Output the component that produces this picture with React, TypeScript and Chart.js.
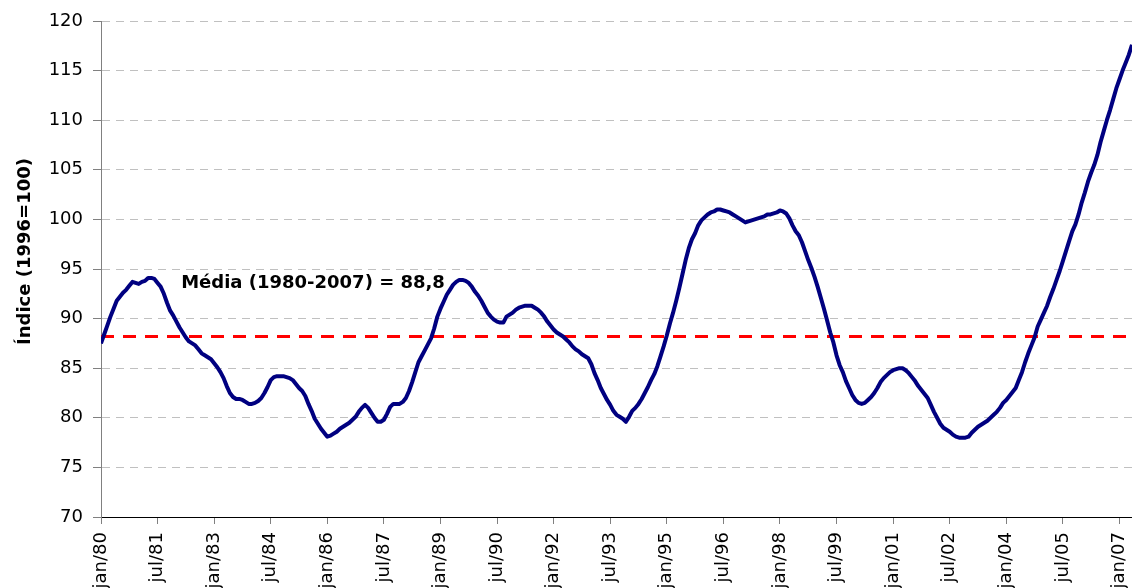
import React, { useEffect, useRef } from 'react';
import { Chart, registerables } from 'chart.js';

Chart.register(...registerables);

// Monthly index values (1996=100), jan/80 .. may/07
const values1980s = [
  87.5, 88.4, 89.3, 90.2, 91.0, 91.8, 92.2, 92.6, 92.9, 93.3, 93.7, 93.6, // 1980
  93.5, 93.7, 93.8, 94.1, 94.1, 94.0, 93.6, 93.2, 92.5, 91.6, 90.8, 90.3, // 1981
  89.7, 89.1, 88.6, 88.1, 87.7, 87.5, 87.3, 86.9, 86.5, 86.3, 86.1, 85.9, // 1982
  85.5, 85.1, 84.6, 84.0, 83.2, 82.5, 82.1, 81.9, 81.9, 81.8, 81.6, 81.4, // 1983
  81.4, 81.5, 81.7, 82.0, 82.5, 83.1, 83.8, 84.1, 84.2, 84.2, 84.2, 84.1, // 1984
  84.0, 83.8, 83.4, 83.0, 82.7, 82.2, 81.4, 80.7, 79.9, 79.4, 78.9, 78.5, // 1985
  78.1, 78.2, 78.4, 78.6, 78.9, 79.1, 79.3, 79.5, 79.8, 80.1, 80.6, 81.0, // 1986
  81.3, 81.0, 80.5, 80.0, 79.6, 79.6, 79.8, 80.4, 81.1, 81.4, 81.4, 81.4, // 1987
  81.6, 82.0, 82.7, 83.6, 84.6, 85.6, 86.2, 86.8, 87.4, 88.0, 89.0, 90.2, // 1988
  91.0, 91.7, 92.4, 92.9, 93.4, 93.7, 93.9, 93.9, 93.8, 93.6, 93.2, 92.7, // 1989
];
const values1990s = [
  92.3, 91.8, 91.2, 90.6, 90.2, 89.9, 89.7, 89.6, 89.6, 90.2, 90.4, 90.6, // 1990
  90.9, 91.1, 91.2, 91.3, 91.3, 91.3, 91.1, 90.9, 90.6, 90.2, 89.7, 89.3, // 1991
  88.9, 88.6, 88.4, 88.2, 87.9, 87.6, 87.2, 86.9, 86.7, 86.4, 86.2, 86.0, // 1992
  85.4, 84.5, 83.8, 83.0, 82.4, 81.8, 81.3, 80.7, 80.3, 80.1, 79.9, 79.6, // 1993
  80.1, 80.7, 81.0, 81.4, 81.9, 82.5, 83.1, 83.8, 84.4, 85.2, 86.2, 87.2, // 1994
  88.3, 89.5, 90.6, 91.8, 93.1, 94.5, 95.9, 97.1, 98.0, 98.6, 99.4, 99.9, // 1995
  100.2, 100.5, 100.7, 100.8, 101.0, 101.0, 100.9, 100.8, 100.7, 100.5, 100.3, 100.1, // 1996
  99.9, 99.7, 99.8, 99.9, 100.0, 100.1, 100.2, 100.3, 100.5, 100.5, 100.6, 100.7, // 1997
  100.9, 100.8, 100.6, 100.1, 99.4, 98.8, 98.4, 97.7, 96.8, 95.9, 95.1, 94.2, // 1998
  93.2, 92.1, 91.0, 89.8, 88.6, 87.6, 86.3, 85.3, 84.6, 83.7, 83.0, 82.3, // 1999
];
const values2000s = [
  81.8, 81.5, 81.4, 81.5, 81.8, 82.1, 82.5, 83.0, 83.6, 84.0, 84.3, 84.6, // 2000
  84.8, 84.9, 85.0, 85.0, 84.8, 84.5, 84.1, 83.7, 83.2, 82.8, 82.4, 82.0, // 2001
  81.3, 80.6, 80.0, 79.4, 79.0, 78.8, 78.6, 78.3, 78.1, 78.0, 78.0, 78.0, // 2002
  78.1, 78.5, 78.8, 79.1, 79.3, 79.5, 79.7, 80.0, 80.3, 80.6, 81.0, 81.5, // 2003
  81.8, 82.2, 82.6, 83.0, 83.8, 84.6, 85.6, 86.5, 87.3, 88.1, 89.2, 89.9, // 2004
  90.6, 91.3, 92.2, 93.0, 93.9, 94.8, 95.8, 96.8, 97.8, 98.8, 99.5, 100.5, // 2005
  101.7, 102.7, 103.8, 104.7, 105.5, 106.5, 107.8, 108.9, 110.0, 111.0, 112.1, 113.2, // 2006
  114.1, 115.0, 115.8, 116.6, 117.6, // 2007
];

const tickMonths = [0, 18, 36, 54, 72, 90, 108, 126, 144, 162, 180, 198, 216, 234, 252, 270, 288, 306, 324];
const tickLabels = [
  'jan/80', 'jul/81', 'jan/83', 'jul/84', 'jan/86', 'jul/87', 'jan/89', 'jul/90', 'jan/92',
  'jul/93', 'jan/95', 'jul/96', 'jan/98', 'jul/99', 'jan/01', 'jul/02', 'jan/04', 'jul/05', 'jan/07',
];

const meanLine = 88.2; // level of the dashed line as drawn
const meanLabel = 'Média (1980-2007) = 88,8';
const meanLabelMonth = 25.5;
const meanLabelValue = 93.1;
const yTitle = 'Índice (1996=100)';

const yMin = 70;
const yMax = 120;
const yStep = 5;

const FONT = '"DejaVu Sans", sans-serif';

const textPlugin = {
  id: 'chartTexts',
  afterDraw(chart: any) {
    const { ctx, chartArea, scales } = chart;
    ctx.save();
    ctx.fillStyle = '#000';
    ctx.font = `bold 18px ${FONT}`;
    ctx.textAlign = 'left';
    ctx.textBaseline = 'alphabetic';
    ctx.fillText(meanLabel, scales.x.getPixelForValue(meanLabelMonth), scales.y.getPixelForValue(meanLabelValue));
    ctx.translate(25, chartArea.top + 230.5);
    ctx.rotate(-Math.PI / 2);
    ctx.textAlign = 'center';
    ctx.textBaseline = 'middle';
    ctx.fillText(yTitle, 0, 0);
    ctx.restore();
  },
};

export default function App() {
  const canvasRef = useRef<HTMLCanvasElement | null>(null);

  useEffect(() => {
    const canvas = canvasRef.current;
    if (!canvas) return;
    const monthly = [...values1980s, ...values1990s, ...values2000s];
    const lastMonth = monthly.length - 1;
    const chart = new Chart(canvas, {
      type: 'line',
      data: {
        datasets: [
          {
            label: 'Índice',
            data: monthly.map((v, i) => ({ x: i, y: v })),
            borderColor: '#000080',
            borderWidth: 4,
            pointRadius: 0,
            tension: 0,
            borderJoinStyle: 'round',
            fill: false,
          },
          {
            label: 'Média',
            data: [
              { x: 0, y: meanLine },
              { x: lastMonth, y: meanLine },
            ],
            borderColor: '#ff0000',
            borderWidth: 3,
            borderDash: [13, 9],
            pointRadius: 0,
            fill: false,
          },
        ],
      },
      options: {
        responsive: false,
        animation: false,
        devicePixelRatio: 1,
        layout: { padding: { top: 21, right: 0, bottom: 0, left: 0 } },
        plugins: {
          legend: { display: false },
          tooltip: { enabled: false },
        },
        scales: {
          x: {
            type: 'linear',
            min: 0,
            max: lastMonth,
            afterBuildTicks: (s: any) => {
              s.ticks = tickMonths.map((v) => ({ value: v }));
            },
            afterFit: (s: any) => {
              s.height = 71;
              s.paddingLeft = 0;
              s.paddingRight = 0;
            },
            ticks: {
              autoSkip: false,
              minRotation: 90,
              maxRotation: 90,
              padding: 8,
              color: '#000',
              font: { family: FONT, size: 18 },
              callback: (v: any) => {
                const k = tickMonths.indexOf(Number(v));
                return k >= 0 ? tickLabels[k] : '';
              },
            },
            grid: {
              drawOnChartArea: false,
              drawTicks: true,
              tickLength: 7,
              color: '#808080',
              tickColor: '#808080',
              tickBorderDash: [],
            },
            border: { display: true, color: '#000', width: 1 },
          },
          y: {
            type: 'linear',
            min: yMin,
            max: yMax,
            afterFit: (s: any) => {
              s.width = 101;
              s.paddingTop = 0;
              s.paddingBottom = 0;
            },
            ticks: {
              stepSize: yStep,
              padding: 10,
              color: '#000',
              font: { family: FONT, size: 18 },
            },
            grid: {
              drawTicks: true,
              tickLength: 8,
              color: (c: any) => (c.tick && c.tick.value === yMin ? 'rgba(0,0,0,0)' : '#c0c0c0'),
              tickColor: '#808080',
              tickBorderDash: [],
              lineWidth: 1,
            },
            border: { display: true, color: '#808080', width: 1, dash: [8, 6] },
          },
        },
      },
      plugins: [textPlugin],
    } as any);
    return () => chart.destroy();
  }, []);

  return (
    <div style={{ position: 'absolute', left: 0, top: 0, width: 1132, height: 588, background: '#fff' }}>
      <canvas ref={canvasRef} width={1132} height={588} style={{ display: 'block' }} />
    </div>
  );
}
